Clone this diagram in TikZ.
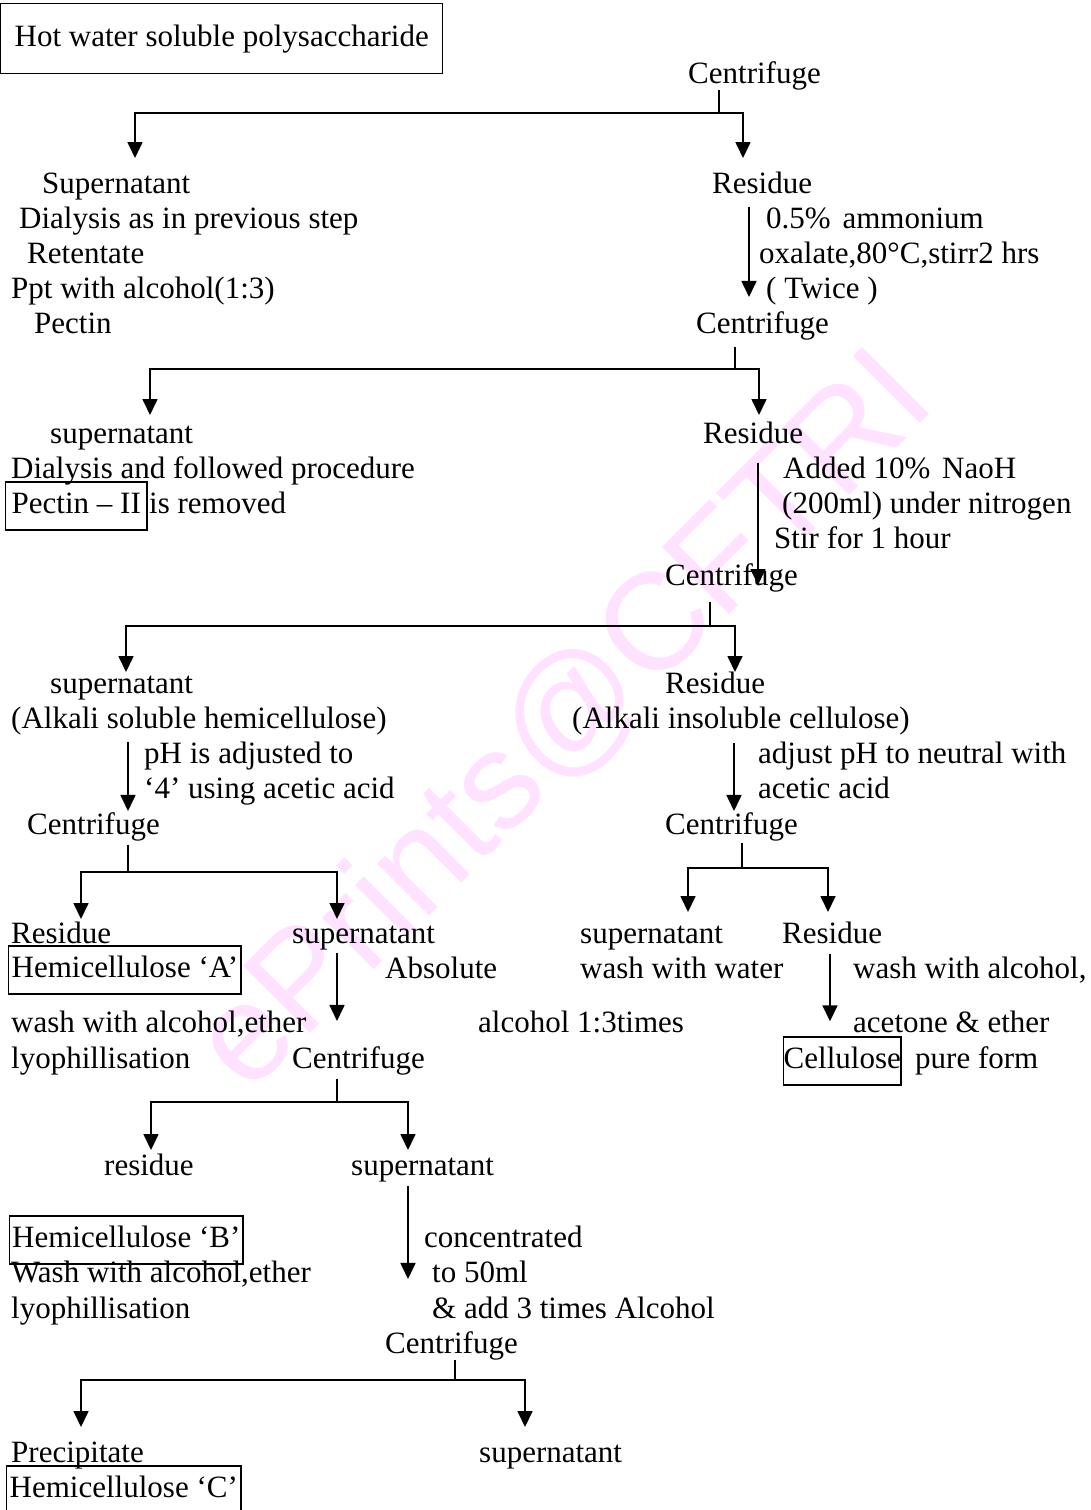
\documentclass[tikz,border=0pt]{standalone}
\usepackage{fontspec}
\setmainfont{Liberation Serif}
\newfontfamily\markfont{Liberation Sans}
\usetikzlibrary{arrows.meta}
\definecolor{markpink}{RGB}{255,226,255}
\tikzset{
  txt/.style={anchor=base west,inner sep=0pt,font=\fontsize{31}{35}\selectfont},
  tag/.style={txt,draw,line width=1.4pt,inner xsep=3pt,inner ysep=9pt,text height=22pt,text depth=8pt},
  link/.style={line width=1.7pt},
  flow/.style={link,-{Triangle[length=16pt,width=15pt]}}
}

\begin{document}
\begin{tikzpicture}[x=1pt,y=-1pt]
  \useasboundingbox (0,0) rectangle (1091,1510);

  % watermark
  \node[rotate=45,text=markpink,inner sep=0pt,font=\markfont\fontsize{138}{138}\selectfont] (mark) at (565,722) {ePrints@CFTRI};

  % start
  \node[draw,line width=1.4pt,anchor=north west,minimum width=442pt,minimum height=70pt,inner sep=0pt,font=\fontsize{31}{35}\selectfont] (hot) at (0,3) {Hot water soluble polysaccharide};
  \node[txt] (cen0) at (688,83) {Centrifuge};

  % first centrifuge
  \node[txt] (sup1) at (42,193) {Supernatant};
  \node[txt] (dia1) at (19,228) {Dialysis as in previous step};
  \node[txt] (ret1) at (27,263) {Retentate};
  \node[txt] (ppt1) at (11,298) {Ppt with alcohol(1:3)};
  \node[txt] (pec1) at (34,333) {Pectin};
  \node[txt] (res1) at (712,193) {Residue};
  \node[txt] (amm1) at (766,228) {0.5\%\hspace{4pt} ammonium};
  \node[txt] (oxa1) at (759,263) {oxalate,80°C,stirr2 hrs};
  \node[txt] (twi1) at (766,298) {( Twice )};
  \node[txt] (cen1) at (696,333) {Centrifuge};

  % ammonium oxalate step
  \node[txt] (sup2) at (50,443) {supernatant};
  \node[txt] (dia2) at (11,478) {Dialysis and followed procedure};
  \node[tag,inner xsep=6pt] (pec2) at (5,513) {Pectin – II};
  \node[txt] (rem2) at (149,513) {is removed};
  \node[txt] (res2) at (703,443) {Residue};
  \node[txt] (nao2) at (783,478) {Added 10\%\hspace{4pt} NaoH};
  \node[txt] (ml2) at (782,513) {(200ml) under nitrogen};
  \node[txt] (sti2) at (774,548) {Stir for 1 hour};
  \node[txt] (cen2) at (665,585) {Centrifuge};

  % alkali step
  \node[txt] (sup3) at (50,693) {supernatant};
  \node[txt] (alk3) at (11,728) {(Alkali soluble hemicellulose)};
  \node[txt] (ph3) at (144,763) {pH is adjusted to};
  \node[txt] (ace3) at (144,798) {‘4’ using acetic acid};
  \node[txt] (cen3) at (27,834) {Centrifuge};
  \node[txt] (res3) at (665,693) {Residue};
  \node[txt] (ins3) at (572,728) {(Alkali insoluble cellulose)};
  \node[txt] (neu3) at (758,763) {adjust pH to neutral with};
  \node[txt] (aci3) at (758,798) {acetic acid};
  \node[txt] (cen3r) at (665,834) {Centrifuge};

  % hemicellulose A / cellulose
  \node[txt] (res4) at (11,943) {Residue};
  \node[tag] (hema) at (8,977) {Hemicellulose ‘A’};
  \node[txt] (sup4) at (292,943) {supernatant};
  \node[txt] (abs4) at (385,978) {Absolute};
  \node[txt] (was4) at (11,1032) {wash with alcohol,ether};
  \node[txt] (alc4) at (478,1032) {alcohol 1:3times};
  \node[txt] (lyo4) at (11,1068) {lyophillisation};
  \node[txt] (cen4) at (292,1068) {Centrifuge};
  \node[txt] (sup4r) at (580,943) {supernatant};
  \node[txt] (wat4) at (580,978) {wash with water};
  \node[txt] (res4r) at (782,943) {Residue};
  \node[txt] (wal4) at (853,978) {wash with alcohol,};
  \node[txt] (act4) at (853,1032) {acetone \& ether};
  \node[tag,inner xsep=0pt] (cel4) at (783,1068) {Cellulose};
  \node[txt] (pur4) at (915,1068) {pure form};

  % hemicellulose B
  \node[txt] (res5) at (104,1175) {residue};
  \node[txt] (sup5) at (351,1175) {supernatant};
  \node[tag,inner xsep=2.5pt] (hemb) at (9,1247) {Hemicellulose ‘B’};
  \node[txt] (was5) at (11,1282) {Wash with alcohol,ether};
  \node[txt] (lyo5) at (11,1318) {lyophillisation};
  \node[txt] (con5) at (424,1247) {concentrated};
  \node[txt] (ml5) at (432,1282) {to 50ml};
  \node[txt] (add5) at (432,1318) {\& add 3 times Alcohol};
  \node[txt] (cen5) at (385,1353) {Centrifuge};

  % hemicellulose C
  \node[txt] (pre6) at (11,1462) {Precipitate};
  \node[txt] (sup6) at (479,1462) {supernatant};
  \node[tag] (hemc) at (6,1497) {Hemicellulose ‘C’};

  % splits
  \coordinate (j0) at (719,113);  \coordinate (t0l) at (135,158); \coordinate (t0r) at (743,158);
  \coordinate (j1) at (735,369);  \coordinate (t1l) at (150,415); \coordinate (t1r) at (759,415);
  \coordinate (j2) at (710,626);  \coordinate (t2l) at (126,672); \coordinate (t2r) at (735,672);
  \coordinate (j3) at (128,872);  \coordinate (t3l) at (81,919);  \coordinate (t3r) at (337,919);
  \coordinate (j3r) at (742,868); \coordinate (u3l) at (688,912); \coordinate (u3r) at (828,912);
  \coordinate (j4) at (337,1102); \coordinate (t4l) at (151,1150); \coordinate (t4r) at (408,1150);
  \coordinate (j5) at (455,1380); \coordinate (t5l) at (81,1427); \coordinate (t5r) at (525,1427);

  \draw[link] (cen0.south -| j0) -- (j0);
  \draw[flow] (j0) -| (t0l);
  \draw[flow] (j0) -| (t0r);
  \draw[link,shorten <=7pt] (cen1.south -| j1) -- (j1);
  \draw[flow] (j1) -| (t1l);
  \draw[flow] (j1) -| (t1r);
  \draw[link,shorten <=10pt] (cen2.south -| j2) -- (j2);
  \draw[flow] (j2) -| (t2l);
  \draw[flow] (j2) -| (t2r);
  \draw[link,shorten <=4pt] (cen3.south -| j3) -- (j3);
  \draw[flow] (j3) -| (t3l);
  \draw[flow] (j3) -| (t3r);
  \draw[link,shorten <=2pt] (cen3r.south -| j3r) -- (j3r);
  \draw[flow] (j3r) -| (u3l);
  \draw[flow] (j3r) -| (u3r);
  \draw[link,shorten <=4pt] (cen4.south -| j4) -- (j4);
  \draw[flow] (j4) -| (t4l);
  \draw[flow] (j4) -| (t4r);
  \draw[link] (cen5.south -| j5) -- (j5);
  \draw[flow] (j5) -| (t5l);
  \draw[flow] (j5) -| (t5r);

  % straight steps
  \draw[flow,shorten <=13pt,shorten >=14pt] (res1.south -| 749,0) -- (cen1.north -| 749,0);
  \draw[flow,shorten <=19pt] (res2.south -| 758,0) -- (cen2.base -| 758,0);
  \draw[flow,shorten <=7pt,shorten >=1pt] (alk3.south -| 128,0) -- (cen3.north -| 128,0);
  \draw[flow,shorten <=8pt,shorten >=1pt] (ins3.south -| 734,0) -- (cen3r.north -| 734,0);
  \draw[flow,shorten <=3pt,shorten >=25pt] (sup4.south -| 337,0) -- (cen4.north -| 337,0);
  \draw[flow,shorten <=10pt,shorten >=15pt] (res4r.south -| 830,0) -- (cel4.north -| 830,0);
  \draw[flow,shorten <=4pt,shorten >=52pt] (sup5.south -| 408,0) -- (cen5.north -| 408,0);
\end{tikzpicture}
\end{document}
